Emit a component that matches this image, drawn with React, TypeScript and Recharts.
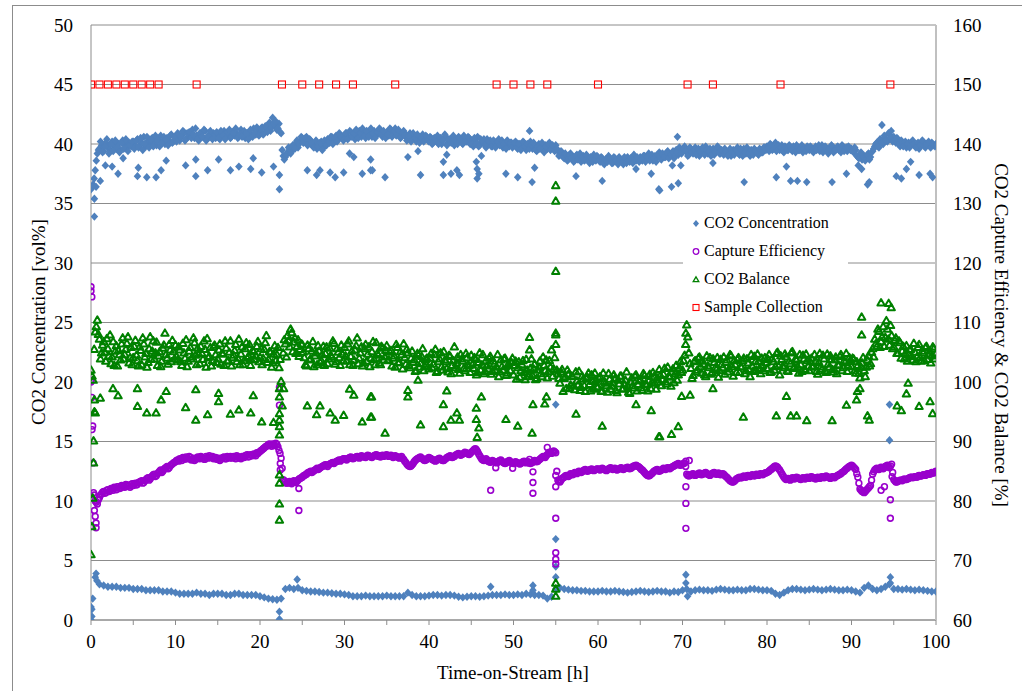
import React from "react";
import { ScatterChart, Scatter, XAxis, YAxis, CartesianGrid } from "recharts";

// sample spacing of the hand-read series [h]
const STEP = 0.25;
const STEP_LOW = 0.5;
// second reading of each dense band sits half a step later
const OFFSET = 0.125;

// CO2 concentration, main band near 40 vol% (every 0.25 h)
const co2High = [
  36.2, 36.6, 37.8, 39.2, 39.6, 39.9, 39.4, 40.1, 39.7, 39.5, 40.2, 39.8, 39.6, 40.0, 39.5, 40.3, 39.9, 39.7, 40.1, 39.8,
  40.2, 39.8, 40.4, 39.9, 40.1, 40.6, 39.8, 40.3, 40.0, 40.5, 40.1, 39.9, 40.4, 40.7, 40.2, 40.0, 40.5, 40.3, 40.8, 40.2,
  40.5, 40.9, 40.3, 40.7, 41.0, 40.4, 40.6, 40.8, 41.2, 40.5, 40.7, 40.3, 40.9, 40.6, 41.1, 40.4, 40.8, 40.6, 40.9, 40.5,
  40.8, 40.4, 40.9, 41.1, 40.6, 40.8, 40.5, 41.0, 40.7, 40.9, 40.6, 41.2, 40.8, 40.5, 40.9, 41.0, 40.7, 41.3, 40.8, 41.0,
  41.0, 41.4, 40.9, 41.3, 41.6, 41.1, 42.2, 41.5, 41.2, 41.7, 40.9, 39.0, 38.9, 39.3, 39.6, 39.4, 39.8, 40.1, 39.7, 40.2,
  40.5, 40.2, 40.6, 40.0, 40.3, 39.8, 40.1, 39.6, 39.9, 40.2, 39.7, 40.0, 40.4, 40.1, 40.6, 40.3, 40.7, 40.4, 40.8, 40.5,
  40.6, 40.9, 40.5, 41.0, 40.7, 40.4, 40.8, 41.1, 40.6, 40.9, 40.5, 41.0, 40.8, 40.6, 41.1, 40.7, 40.9, 41.2, 40.6, 40.8,
  41.0, 40.7, 41.2, 40.9, 41.3, 40.8, 41.0, 40.6, 41.1, 40.8, 40.5, 40.9, 40.4, 40.7, 40.2, 40.6, 40.3, 40.8, 40.4, 40.6,
  40.2, 40.5, 40.1, 40.4, 40.7, 40.2, 40.0, 40.4, 40.6, 40.1, 40.3, 40.5, 39.9, 40.2, 40.6, 40.3, 40.0, 40.4, 40.2, 40.5,
  40.3, 39.8, 40.2, 40.6, 39.9, 40.1, 40.4, 39.7, 40.0, 40.3, 39.8, 40.2, 39.9, 40.4, 40.1, 39.7, 40.0, 40.3, 39.8, 40.1,
  39.9, 40.2, 39.6, 40.0, 39.7, 40.1, 39.5, 39.8, 40.2, 39.6, 39.9, 39.4, 40.0, 39.7, 39.5, 39.9, 39.6, 40.1, 39.8, 39.7,
  39.9, 39.4, 39.1, 39.3, 38.8, 39.0, 38.7, 39.2, 38.9, 38.6, 39.1, 38.8, 38.5, 39.0, 38.7, 38.9, 38.4, 38.8, 39.1, 38.6,
  38.9, 38.5, 38.8, 38.3, 38.7, 39.0, 38.6, 38.4, 38.8, 38.5, 38.9, 38.6, 38.3, 38.7, 38.9, 38.5, 38.8, 39.1, 38.6, 38.7,
  38.9, 38.6, 39.0, 38.7, 39.2, 38.8, 38.6, 39.0, 38.9, 39.3, 38.7, 39.1, 38.9, 39.4, 39.0, 39.2, 38.8, 39.5, 39.1, 39.6,
  39.3, 39.8, 39.5, 39.1, 39.6, 39.2, 39.7, 39.4, 39.0, 39.5, 39.3, 39.8, 39.2, 39.6, 39.4, 39.1, 39.5, 39.7, 39.2, 39.4,
  39.6, 39.2, 39.4, 39.0, 39.5, 39.3, 39.7, 39.1, 39.4, 39.6, 39.2, 39.5, 39.0, 39.3, 39.6, 39.4, 39.1, 39.5, 39.3, 39.7,
  39.8, 39.4, 39.9, 39.6, 40.1, 39.7, 39.5, 39.9, 39.3, 39.7, 39.5, 39.8, 39.4, 39.6, 39.9, 39.5, 39.7, 39.3, 39.6, 39.8,
  39.5, 39.7, 39.3, 39.8, 39.6, 39.4, 39.9, 39.5, 39.7, 39.2, 39.6, 39.8, 39.4, 39.7, 39.5, 39.3, 39.8, 39.6, 39.4, 39.7,
  39.6, 39.3, 39.5, 38.9, 39.1, 38.7, 39.0, 38.8, 39.2, 38.9, 39.4, 39.8, 40.1, 39.7, 40.3, 40.0, 40.5, 40.2, 40.8, 40.4,
  40.6, 40.1, 40.4, 39.8, 40.2, 40.0, 39.7, 40.1, 39.9, 40.3, 39.8, 40.0, 39.6, 39.9, 40.2, 39.7, 40.0, 39.8, 40.1, 39.9,
  40.0,
];

// CO2 concentration, main band, readings in between (0.125 h + every 0.25 h)
const co2HighMid = [
  36.4, 37.1, 38.6, 39.5, 40.2, 39.3, 39.8, 40.4, 39.2, 40.0, 39.4, 40.3, 39.7, 39.3, 40.1, 39.6, 40.4, 39.4, 39.9, 40.2,
  39.6, 40.3, 39.7, 40.5, 39.5, 40.0, 40.6, 39.7, 40.4, 39.8, 40.7, 40.3, 39.8, 40.1, 40.6, 40.4, 39.9, 40.7, 40.1, 40.6,
  40.2, 40.8, 40.6, 41.1, 40.3, 40.9, 41.0, 40.5, 40.8, 41.3, 40.4, 40.9, 40.6, 41.2, 40.3, 40.7, 41.1, 40.4, 40.8, 41.0,
  40.5, 41.1, 40.7, 40.4, 41.0, 41.2, 40.6, 40.9, 41.3, 40.5, 40.8, 40.6, 41.1, 40.9, 40.4, 41.2, 40.6, 40.9, 41.4, 40.7,
  41.3, 40.8, 41.5, 41.0, 41.8, 41.4, 41.7, 41.9, 41.3, 41.0, 39.5, 38.7, 39.1, 39.7, 39.2, 39.9, 39.6, 40.3, 40.0, 40.6,
  40.1, 40.5, 39.9, 40.4, 40.1, 39.7, 40.3, 39.8, 40.1, 39.5, 40.3, 39.9, 40.2, 40.6, 40.0, 40.5, 40.2, 40.9, 40.6, 40.3,
  40.9, 40.4, 41.1, 40.6, 40.9, 41.2, 40.5, 40.9, 41.3, 40.7, 41.1, 40.6, 41.3, 40.9, 40.5, 41.0, 41.3, 40.8, 41.1, 40.5,
  40.8, 41.3, 40.6, 41.1, 40.7, 41.2, 40.5, 40.9, 40.7, 40.3, 40.6, 40.2, 40.9, 40.5, 40.8, 40.1, 40.5, 40.2, 40.7, 40.3,
  40.6, 40.0, 40.5, 40.2, 40.0, 40.5, 40.3, 40.8, 39.9, 40.4, 40.1, 40.7, 40.3, 40.0, 40.5, 40.1, 40.7, 40.2, 40.6, 40.0,
  40.0, 40.5, 40.0, 39.8, 40.4, 40.2, 39.9, 40.4, 40.2, 39.8, 40.3, 39.7, 40.2, 39.9, 40.3, 40.0, 39.6, 40.2, 40.1, 39.7,
  40.1, 39.7, 40.0, 39.5, 40.2, 39.8, 40.0, 39.6, 39.9, 40.1, 39.5, 39.8, 39.6, 40.1, 39.3, 39.8, 40.0, 39.5, 39.9, 39.4,
  39.6, 39.0, 39.4, 38.9, 39.2, 38.6, 39.1, 38.8, 38.5, 39.0, 38.7, 39.2, 38.9, 38.6, 39.1, 38.6, 38.9, 38.5, 38.7, 39.0,
  38.6, 38.9, 38.4, 38.7, 38.5, 38.8, 38.4, 38.9, 38.6, 38.3, 38.7, 38.5, 38.9, 38.4, 38.6, 38.8, 38.4, 38.7, 38.9, 38.5,
  38.7, 39.0, 38.5, 38.9, 38.6, 39.1, 38.8, 38.5, 39.1, 38.8, 39.2, 38.9, 39.3, 38.8, 39.1, 39.4, 39.0, 39.3, 39.7, 39.2,
  39.6, 39.4, 39.0, 39.7, 39.3, 39.5, 39.1, 39.6, 39.3, 39.7, 39.1, 39.5, 39.4, 39.0, 39.6, 39.3, 39.8, 39.2, 39.5, 39.1,
  39.4, 39.0, 39.6, 39.3, 39.1, 39.5, 39.2, 39.6, 39.0, 39.3, 39.7, 39.2, 39.5, 39.1, 39.4, 39.2, 39.6, 39.3, 39.7, 39.5,
  39.6, 40.0, 39.5, 39.8, 39.4, 39.9, 39.7, 39.4, 39.8, 39.5, 39.9, 39.6, 39.8, 39.3, 39.7, 39.5, 39.9, 39.6, 39.4, 39.7,
  39.8, 39.4, 39.6, 39.5, 39.9, 39.6, 39.3, 39.8, 39.4, 39.6, 39.9, 39.3, 39.5, 39.8, 39.6, 39.9, 39.4, 39.7, 39.8, 39.5,
  39.4, 39.7, 39.0, 38.8, 39.3, 38.9, 38.6, 39.1, 38.7, 39.3, 39.6, 40.0, 39.8, 40.4, 40.1, 40.7, 40.3, 40.9, 40.5, 40.2,
  40.3, 40.5, 40.0, 40.3, 39.8, 40.2, 40.0, 39.7, 40.2, 40.0, 39.7, 40.1, 39.9, 40.3, 39.8, 40.0, 40.2, 39.7, 40.0, 39.8,
];

// CO2 concentration, lower band near 2.5 vol% (every 0.5 h)
const co2Low = [
  1.1, 3.6, 3.0, 2.9, 2.8, 2.8, 2.8, 2.7, 2.7, 2.7, 2.6, 2.6, 2.6, 2.5, 2.5, 2.5, 2.5, 2.4, 2.4, 2.4,
  2.3, 2.2, 2.2, 2.2, 2.2, 2.3, 2.2, 2.2, 2.1, 2.2, 2.2, 2.2, 2.1, 2.1, 2.2, 2.2, 2.1, 2.1, 2.1, 2.1,
  2.0, 1.9, 1.8, 1.75, 1.7, 1.8, 2.6, 2.7, 2.6, 2.7, 2.5, 2.45, 2.4, 2.4, 2.35, 2.3, 2.3, 2.25, 2.2, 2.2,
  2.15, 2.1, 2.0, 2.0, 2.0, 2.05, 2.0, 2.0, 2.0, 2.0, 2.05, 2.0, 2.0, 2.0, 2.0, 2.3, 2.1, 2.0, 2.0, 2.0,
  2.05, 2.1, 2.1, 2.05, 2.1, 2.1, 2.05, 1.95, 1.9, 1.95, 2.0, 2.0, 1.95, 2.0, 2.05, 2.1, 2.1, 2.1, 2.15, 2.1,
  2.1, 2.15, 2.1, 2.2, 2.15, 2.1, 2.1, 2.05, 1.8, 1.95, 2.6, 2.7, 2.6, 2.55, 2.5, 2.5, 2.45, 2.45, 2.4, 2.4,
  2.4, 2.45, 2.4, 2.4, 2.45, 2.4, 2.35, 2.3, 2.35, 2.4, 2.45, 2.4, 2.35, 2.4, 2.45, 2.4, 2.4, 2.3, 2.4, 2.35,
  2.5, 2.6, 2.4, 2.5, 2.55, 2.5, 2.5, 2.45, 2.55, 2.6, 2.55, 2.5, 2.5, 2.55, 2.5, 2.5, 2.6, 2.6, 2.55, 2.5,
  2.5, 2.45, 2.2, 2.1, 2.3, 2.5, 2.6, 2.6, 2.55, 2.5, 2.55, 2.6, 2.55, 2.5, 2.55, 2.6, 2.55, 2.5, 2.5, 2.55,
  2.5, 2.4, 2.3, 2.7, 2.9, 2.6, 2.5, 2.6, 2.8, 3.0, 2.6, 2.6, 2.55, 2.6, 2.55, 2.5, 2.55, 2.5, 2.45, 2.4,
  2.4,
];

// scattered CO2 readings off the two bands [h, vol%]
const co2Scatter: [number, number][] = [
  [0.4, 33.9], [0.4, 35.4], [0.6, 36.4], [1.1, 36.9], [1.7, 38.2], [2.5, 38.1], [3.2, 37.5], [3.8, 38.8],
  [5.5, 37.3], [5.6, 38.0], [6.6, 37.2], [7.7, 37.2], [8.3, 37.8], [8.9, 38.6], [11.2, 38.2], [12.4, 38.7],
  [12.4, 37.3], [13.8, 37.8], [15.1, 38.7], [16.5, 37.8], [17.5, 38.1], [18.9, 37.9], [19.2, 38.8], [20.2, 37.6],
  [21.6, 38.1], [22.3, 36.2], [22.3, 37.4], [25.6, 37.8], [26.7, 37.4], [27.1, 37.8], [28.3, 37.6], [28.9, 37.2],
  [29.9, 37.6], [30.6, 39.2], [31.1, 38.9], [32.1, 37.5], [33.1, 37.8], [33.1, 38.7], [33.3, 37.8], [34.8, 37.2],
  [37.5, 38.9], [38.7, 39.4], [39.0, 37.4], [41.7, 38.5], [41.7, 37.4], [42.1, 39.1], [42.6, 37.5], [43.3, 37.8],
  [43.6, 37.4], [45.6, 38.5], [45.7, 37.9], [45.7, 37.1], [45.9, 37.5], [46.2, 39.0], [49.1, 37.5], [50.5, 37.2],
  [52.2, 36.8], [52.5, 38.0], [51.9, 41.1], [57.4, 37.3], [60.5, 36.9], [64.5, 37.9], [66.3, 37.5], [67.3, 36.1],
  [67.2, 36.2], [68.7, 36.4], [69.5, 36.7], [68.8, 38.2], [69.8, 38.2], [69.4, 40.6], [73.6, 38.4], [77.3, 36.8],
  [81.1, 37.2], [82.3, 38.1], [82.8, 36.9], [83.6, 36.9], [84.7, 36.8], [87.7, 36.8], [89.4, 37.5], [90.8, 38.2],
  [91.2, 37.9], [91.9, 36.6], [92.1, 36.8], [93.6, 41.6], [94.7, 41.1], [95.3, 37.3], [95.9, 37.1], [96.5, 37.9],
  [97.0, 38.5], [98.0, 37.4], [99.3, 37.5], [99.6, 37.2],
  [0, 0], [0.1, 0.3], [0.1, 0.9], [0.2, 1.8], [0.6, 3.9], [0.7, 3.3], [22.3, 0.7], [22.3, 0.06], [24.4, 3.4],
  [47.3, 2.8], [52.3, 2.9], [52.3, 2.5], [55.0, 18.1], [55.0, 6.8], [55.0, 4.5], [55.0, 3.6], [70.4, 3.8],
  [70.4, 3.1], [70.6, 2.0], [94.5, 18.1], [94.5, 15.1], [94.6, 3.6], [94.6, 3.1],
];

// capture efficiency [%] (every 0.25 h)
const efficiency = [
  100.0, 86.4, 80.0, 79.5, 80.6, 81.2, 81.6, 81.4, 81.9, 81.7, 82.0, 82.3, 81.9, 82.4, 82.2, 82.5, 82.3, 82.7, 82.5, 82.8,
  82.6, 83.0, 82.8, 83.2, 83.4, 83.1, 83.6, 83.9, 83.7, 84.2, 84.5, 84.3, 84.8, 85.2, 85.0, 85.5, 85.8, 85.6, 86.1, 86.4,
  86.6, 86.9, 87.1, 86.8, 87.2, 87.4, 87.1, 87.3, 87.0, 86.8, 87.1, 87.3, 87.5, 87.2, 87.0, 87.3, 87.6, 87.4, 87.1, 87.3,
  87.0, 86.8, 87.2, 87.4, 87.1, 87.3, 87.5, 87.2, 87.4, 87.6, 87.3, 87.1, 87.4, 87.6, 87.8, 87.5, 87.7, 87.9, 87.6, 88.0,
  88.3, 88.6, 88.9, 89.2, 89.5, 89.4, 89.6, 89.3, 89.5, 88.5, 87.2, 83.6, 83.2, 83.0, 83.3, 82.9, 83.4, 83.1, 83.5, 83.8,
  84.0, 84.3, 84.5, 84.8, 85.0, 84.9, 85.2, 85.5, 85.4, 85.7, 85.9, 86.1, 85.8, 86.2, 86.4, 86.3, 86.6, 86.8, 86.7, 87.0,
  87.1, 86.9, 87.2, 87.4, 87.1, 87.3, 87.5, 87.2, 87.6, 87.4, 87.3, 87.7, 87.5, 87.3, 87.6, 87.8, 87.5, 87.4, 87.7, 87.6,
  87.8, 87.5, 87.7, 87.3, 87.6, 87.4, 87.2, 87.5, 87.0, 86.5, 86.0, 85.8, 86.1, 86.6, 87.0, 87.2, 87.4, 87.1, 86.8, 87.0,
  87.3, 87.1, 86.9, 86.7, 87.0, 87.2, 86.9, 86.8, 87.1, 87.4, 87.6, 87.3, 87.5, 87.8, 88.0, 87.7, 87.9, 88.2, 88.0, 87.8,
  88.2, 88.5, 88.8, 88.3, 87.6, 87.0, 86.8, 87.1, 86.7, 86.5, 86.8, 86.6, 86.4, 86.7, 86.9, 86.5, 86.3, 86.6, 86.8, 86.5,
  86.3, 86.6, 86.4, 86.2, 86.5, 86.7, 86.4, 86.6, 86.3, 86.5, 86.8, 86.6, 86.9, 87.2, 87.5, 87.3, 87.8, 88.2, 88.0, 88.4,
  88.1, 83.5, 83.2, 83.8, 84.0, 84.3, 84.1, 84.6, 84.4, 84.8, 84.6, 85.0, 84.8, 85.1, 85.3, 85.0, 85.2, 85.4, 85.1, 85.3,
  85.4, 85.2, 85.5, 85.3, 85.1, 85.4, 85.6, 85.3, 85.5, 85.2, 85.4, 85.6, 85.3, 85.5, 85.7, 85.4, 85.6, 85.9, 86.0, 85.8,
  85.5, 85.2, 84.8, 84.4, 84.2, 84.5, 84.8, 85.1, 85.3, 85.0, 85.2, 85.5, 85.3, 85.6, 85.4, 85.7, 85.9, 86.1, 86.3, 86.0,
  86.2, 86.4, 84.5, 84.2, 84.4, 84.6, 84.3, 84.5, 84.7, 84.4, 84.6, 84.8, 84.5, 84.3, 84.6, 84.8, 84.5, 84.7, 84.4, 84.6,
  84.3, 84.0, 83.6, 83.3, 83.2, 83.5, 83.8, 84.0, 83.9, 84.2, 84.0, 84.3, 84.1, 84.4, 84.2, 84.5, 84.3, 84.6, 84.4, 84.7,
  84.8, 85.0, 85.3, 85.6, 85.9, 85.7, 85.2, 84.6, 84.0, 83.6, 83.8, 83.5, 83.9, 83.7, 84.0, 83.8, 83.6, 83.9, 83.7, 84.0,
  83.8, 84.1, 83.9, 83.7, 84.0, 83.8, 84.1, 83.9, 84.2, 84.0, 83.8, 84.1, 83.9, 84.2, 84.4, 84.6, 84.9, 85.2, 85.5, 85.8,
  86.0, 85.7, 85.3, 84.0, 82.0, 81.6, 81.4, 81.8, 82.2, 82.6, 84.5, 85.2, 85.5, 85.3, 85.7, 85.4, 85.8, 86.0, 85.6, 86.2,
  83.6, 83.2, 83.3, 83.5, 83.4, 83.7, 83.6, 83.8, 84.0, 83.9, 84.1, 84.0, 84.3, 84.2, 84.4, 84.3, 84.6, 84.5, 84.8, 84.7,
  85.0,
];

// capture efficiency, readings in between (0.125 h + every 0.25 h)
const efficiencyMid = [
  92.0, 81.0, 79.8, 80.2, 81.0, 81.5, 81.3, 81.8, 81.6, 82.1, 81.8, 82.2, 82.4, 82.1, 82.6, 82.4, 82.8, 82.6, 82.3, 82.9,
  82.9, 82.7, 83.1, 83.3, 83.0, 83.4, 83.8, 83.5, 84.0, 84.4, 84.1, 84.6, 85.0, 84.8, 85.3, 85.6, 85.4, 85.9, 86.2, 86.5,
  86.8, 86.7, 87.0, 87.3, 87.0, 87.2, 87.5, 86.9, 87.2, 87.0, 87.4, 87.1, 87.3, 87.0, 87.5, 87.2, 87.3, 87.5, 87.2, 87.0,
  87.2, 87.0, 87.3, 87.1, 87.5, 87.2, 87.3, 87.5, 87.1, 87.4, 87.2, 87.5, 87.3, 87.7, 87.4, 87.8, 87.6, 87.8, 88.1, 88.2,
  88.5, 88.8, 89.1, 89.3, 89.6, 89.2, 89.5, 89.7, 89.1, 88.0, 85.5, 83.4, 83.0, 83.2, 83.1, 83.2, 83.3, 83.3, 83.7, 83.9,
  84.2, 84.4, 84.7, 84.9, 84.8, 85.1, 85.3, 85.3, 85.6, 85.8, 86.0, 86.0, 86.1, 86.3, 86.5, 86.5, 86.7, 86.9, 86.9, 87.1,
  87.0, 87.1, 87.3, 87.2, 87.2, 87.4, 87.4, 87.4, 87.5, 87.5, 87.5, 87.6, 87.4, 87.5, 87.7, 87.7, 87.6, 87.6, 87.5, 87.7,
  87.6, 87.6, 87.5, 87.5, 87.5, 87.3, 87.3, 87.2, 86.7, 86.2, 85.9, 85.9, 86.3, 86.8, 87.1, 87.3, 87.2, 86.9, 86.9, 87.2,
  87.2, 87.0, 86.8, 86.8, 87.1, 87.0, 86.8, 87.0, 87.3, 87.5, 87.4, 87.4, 87.7, 87.9, 87.8, 87.8, 88.0, 88.1, 87.9, 88.0,
  88.3, 88.7, 88.6, 87.9, 87.3, 86.9, 86.9, 86.9, 86.6, 86.6, 86.7, 86.5, 86.5, 86.8, 86.7, 86.4, 86.4, 86.7, 86.6, 86.4,
  86.5, 86.5, 86.3, 86.3, 86.6, 86.5, 86.5, 86.4, 86.4, 86.6, 86.7, 86.7, 87.0, 87.3, 87.4, 87.6, 88.0, 88.1, 88.2, 88.3,
  85.0, 83.3, 83.5, 83.9, 84.2, 84.2, 84.3, 84.5, 84.6, 84.7, 84.9, 84.9, 84.9, 85.2, 85.1, 85.1, 85.3, 85.2, 85.2, 85.4,
  85.3, 85.4, 85.4, 85.2, 85.3, 85.5, 85.4, 85.4, 85.3, 85.3, 85.5, 85.4, 85.4, 85.6, 85.5, 85.5, 85.8, 85.9, 85.9, 85.7,
  85.3, 85.0, 84.6, 84.3, 84.3, 84.6, 85.0, 85.2, 85.1, 85.1, 85.3, 85.4, 85.5, 85.5, 85.6, 85.8, 86.0, 86.2, 86.1, 86.1,
  86.3, 85.8, 84.3, 84.3, 84.5, 84.4, 84.4, 84.6, 84.5, 84.5, 84.7, 84.6, 84.4, 84.5, 84.7, 84.6, 84.6, 84.5, 84.5, 84.5,
  84.1, 83.8, 83.4, 83.2, 83.3, 83.7, 83.9, 83.9, 84.1, 84.1, 84.2, 84.2, 84.3, 84.3, 84.3, 84.4, 84.5, 84.5, 84.6, 84.7,
  84.9, 85.2, 85.5, 85.8, 85.8, 85.4, 84.9, 84.3, 83.8, 83.7, 83.6, 83.7, 83.8, 83.9, 83.9, 83.7, 83.8, 83.8, 83.9, 83.9,
  84.0, 84.0, 83.8, 83.9, 83.9, 84.0, 84.0, 84.1, 84.1, 83.9, 84.0, 84.0, 84.1, 84.3, 84.5, 84.8, 85.0, 85.4, 85.7, 85.9,
  85.9, 85.5, 84.6, 83.0, 81.8, 81.5, 81.6, 82.0, 82.4, 83.5, 84.9, 85.4, 85.4, 85.5, 85.6, 85.6, 85.9, 85.8, 85.9, 84.8,
  83.4, 83.2, 83.4, 83.5, 83.6, 83.6, 83.7, 83.9, 84.0, 84.0, 84.1, 84.2, 84.2, 84.3, 84.4, 84.5, 84.6, 84.6, 84.7, 84.9,
];

const efficiencyScatter: [number, number][] = [
  [0, 116.0], [0, 115.3], [0.1, 114.3], [0, 100.3], [0.1, 97.4], [0.2, 92.6], [0.3, 81.4], [0.4, 78.4],
  [0.5, 77.4], [0.6, 76.3], [0.6, 75.5], [22.3, 99.1], [22.3, 96.1], [22.4, 86.3], [22.4, 85.2], [24.6, 82.1],
  [24.6, 78.4], [47.3, 81.8], [47.9, 85.6], [49.9, 85.5], [52.3, 84.9], [52.3, 83.1], [52.3, 81.3], [51.9, 87.0],
  [54.0, 89.0], [55.0, 84.3], [55.0, 82.4], [55.0, 77.1], [55.0, 71.3], [55.0, 70.2], [55.0, 69.4], [70.4, 86.7],
  [70.4, 82.4], [70.4, 79.6], [70.4, 75.4], [70.8, 86.8], [93.5, 81.8], [93.9, 82.4], [94.6, 80.2], [94.6, 77.1],
  [94.8, 84.1],
];

// CO2 balance [%] (every 0.25 h)
const balance = [
  102.0, 100.3, 108.4, 110.4, 107.2, 104.9, 106.8, 103.5, 105.6, 107.9, 104.2, 102.8, 106.1, 105.3, 103.7, 107.4, 104.6, 106.5, 103.2, 105.8,
  104.1, 107.0, 103.6, 105.9, 102.9, 106.4, 104.8, 103.3, 107.6, 105.2, 103.9, 106.7, 104.4, 102.6, 105.7, 108.2, 104.0, 106.3, 103.4, 105.1,
  106.2, 103.7, 105.4, 102.8, 104.9, 107.1, 103.5, 105.8, 104.2, 106.6, 102.9, 104.7, 106.0, 103.8, 105.5, 107.3, 104.3, 102.7, 105.9, 104.6,
  103.9, 106.4, 104.8, 102.8, 105.7, 103.6, 106.9, 104.1, 105.3, 103.4, 107.2, 104.7, 102.9, 105.6, 104.0, 106.3, 103.7, 105.1, 104.4, 106.8,
  104.2, 102.9, 105.5, 107.8, 103.8, 105.0, 103.2, 106.1, 104.6, 102.4, 100.1, 104.9, 106.4, 107.8, 105.9, 108.3, 106.7, 104.8, 107.1, 105.5,
  106.3, 104.1, 102.7, 105.6, 103.9, 106.8, 104.4, 102.9, 105.2, 103.6, 106.0, 104.8, 103.1, 105.7, 104.2, 106.5, 103.4, 105.0, 102.8, 104.7,
  105.8, 103.5, 106.9, 104.3, 102.8, 105.4, 107.4, 104.0, 105.9, 103.2, 106.3, 104.7, 102.6, 105.1, 103.8, 106.6, 104.5, 102.9, 105.7, 104.2,
  106.1, 103.7, 105.3, 104.0, 102.5, 105.8, 103.3, 104.6, 106.4, 103.0, 104.9, 102.4, 105.2, 103.7, 101.9, 104.5, 103.1, 105.6, 102.7, 104.0,
  102.2, 104.8, 103.0, 105.5, 101.8, 103.9, 102.6, 105.1, 103.4, 101.7, 104.3, 102.8, 105.9, 103.2, 102.1, 104.6, 103.5, 101.9, 104.1, 102.7,
  104.5, 102.3, 103.8, 101.6, 104.9, 102.9, 101.4, 103.6, 102.2, 104.3, 101.8, 103.1, 102.5, 100.9, 103.7, 102.0, 104.0, 101.5, 102.8, 103.3,
  101.2, 103.5, 102.4, 100.8, 102.9, 101.6, 103.8, 100.9, 102.3, 101.1, 103.0, 100.6, 102.5, 101.4, 104.2, 101.9, 100.7, 103.6, 105.4, 102.2,
  106.3, 101.4, 99.8, 102.1, 100.6, 98.9, 101.3, 99.5, 100.9, 98.7, 100.2, 101.8, 99.1, 100.5, 98.4, 100.8, 99.6, 101.2, 98.8, 100.3,
  99.2, 100.9, 98.5, 100.1, 99.4, 101.4, 98.8, 99.9, 100.6, 98.2, 99.7, 101.0, 98.9, 100.3, 99.3, 98.1, 100.7, 99.0, 101.2, 99.6,
  100.4, 98.6, 101.1, 99.5, 100.2, 98.9, 101.6, 99.8, 100.7, 102.1, 99.4, 101.3, 100.0, 102.5, 100.8, 101.7, 99.9, 102.8, 101.2, 103.4,
  102.0, 104.5, 109.6, 104.9, 102.3, 101.1, 103.6, 102.0, 104.2, 101.5, 103.0, 100.9, 102.7, 104.1, 101.6, 103.3, 102.1, 100.8, 103.8, 102.4,
  101.3, 103.7, 102.2, 104.4, 101.0, 102.9, 103.8, 101.6, 102.5, 104.0, 101.9, 103.2, 100.9, 102.7, 104.3, 102.0, 103.5, 101.4, 102.8, 104.1,
  102.3, 104.6, 101.7, 103.4, 102.6, 105.0, 101.2, 103.8, 102.4, 104.2, 101.8, 103.1, 105.1, 102.5, 103.7, 101.5, 102.9, 104.5, 102.1, 103.6,
  101.9, 104.0, 102.7, 103.5, 101.3, 104.8, 102.2, 103.9, 101.6, 103.0, 104.4, 102.1, 103.7, 101.4, 102.8, 104.6, 102.4, 103.3, 101.8, 104.1,
  102.6, 103.9, 101.5, 102.8, 100.7, 103.2, 101.9, 102.5, 104.4, 103.1, 105.6, 107.2, 106.0, 108.5, 106.8, 109.3, 107.5, 108.9, 106.2, 107.8,
  105.9, 107.4, 104.8, 106.6, 105.2, 103.9, 106.1, 104.6, 105.5, 103.7, 105.0, 104.2, 106.3, 103.5, 104.9, 105.8, 103.8, 105.2, 104.4, 105.6,
  104.8,
];

// CO2 balance, readings in between (0.125 h + every 0.25 h)
const balanceMid = [
  101.0, 105.5, 109.3, 108.0, 103.9, 106.2, 105.0, 107.3, 104.4, 103.1, 106.8, 105.2, 102.7, 104.6, 106.4, 103.9, 105.5, 107.6, 104.1, 102.9,
  106.0, 104.5, 102.7, 105.3, 107.4, 104.2, 102.5, 105.6, 103.8, 106.9, 104.9, 102.8, 105.1, 103.5, 106.2, 104.6, 103.0, 105.4, 107.0, 103.9,
  104.3, 105.9, 103.4, 106.5, 104.0, 102.6, 105.2, 103.9, 107.4, 104.5, 105.7, 103.1, 104.8, 106.9, 102.5, 104.1, 105.8, 103.6, 106.2, 103.3,
  105.4, 103.0, 104.7, 106.9, 103.5, 105.0, 102.7, 104.5, 106.3, 104.0, 102.9, 105.9, 103.6, 106.6, 104.3, 102.8, 105.3, 103.8, 106.0, 103.4,
  105.6, 104.0, 106.6, 103.3, 105.1, 102.5, 104.7, 103.6, 105.8, 103.8, 96.0, 107.1, 104.2, 106.9, 108.9, 105.1, 107.4, 106.0, 104.3, 106.4,
  105.0, 102.9, 106.2, 103.7, 105.2, 102.6, 104.9, 106.1, 103.3, 104.6, 102.8, 105.9, 103.9, 104.5, 106.9, 103.0, 105.6, 104.1, 106.2, 103.6,
  104.4, 106.4, 102.9, 105.2, 103.7, 106.1, 103.1, 104.9, 102.7, 105.6, 103.5, 105.9, 104.0, 106.8, 102.9, 104.8, 103.2, 106.0, 103.7, 105.3,
  103.6, 105.0, 102.7, 104.4, 106.3, 103.2, 105.1, 102.2, 104.1, 105.5, 102.8, 104.0, 103.3, 101.8, 104.8, 102.5, 104.3, 101.9, 103.8, 102.6,
  104.0, 102.4, 104.6, 101.6, 103.4, 104.9, 102.0, 103.7, 102.3, 104.5, 101.4, 103.6, 102.4, 104.2, 101.5, 103.9, 102.3, 104.8, 102.9, 101.6,
  102.9, 104.1, 101.2, 103.3, 102.0, 104.6, 101.8, 102.7, 104.0, 101.3, 103.5, 102.0, 104.6, 101.7, 102.6, 103.9, 101.1, 103.0, 101.9, 104.0,
  102.8, 100.5, 103.4, 101.9, 103.6, 100.4, 102.0, 101.3, 103.9, 102.2, 100.4, 102.0, 103.5, 100.9, 102.8, 103.7, 101.7, 102.5, 101.0, 104.1,
  102.0, 100.6, 101.7, 98.4, 100.9, 102.0, 99.0, 101.0, 99.3, 101.7, 99.5, 98.6, 101.0, 99.4, 100.6, 101.5, 98.5, 100.1, 101.5, 99.1,
  100.6, 98.4, 101.5, 99.8, 98.3, 100.5, 99.3, 101.2, 98.6, 100.3, 101.0, 98.8, 99.6, 101.7, 98.3, 100.0, 99.4, 101.0, 98.5, 100.2,
  99.0, 101.4, 99.7, 98.5, 101.3, 99.9, 100.9, 98.8, 100.0, 101.1, 100.4, 102.3, 99.7, 101.0, 99.3, 102.2, 101.4, 100.3, 102.4, 101.6,
  103.6, 106.3, 107.6, 103.1, 100.6, 103.4, 101.7, 104.0, 102.6, 103.5, 101.2, 104.4, 102.4, 101.3, 103.9, 102.4, 104.1, 101.9, 102.9, 104.2,
  103.3, 101.7, 104.6, 102.6, 103.6, 101.6, 104.1, 102.6, 103.6, 101.4, 103.9, 102.1, 104.6, 101.8, 103.4, 104.7, 102.3, 104.0, 101.9, 103.2,
  103.8, 101.6, 103.9, 102.0, 104.8, 102.7, 104.4, 102.7, 104.7, 101.9, 103.5, 104.9, 102.3, 103.9, 102.6, 104.6, 101.8, 103.9, 104.7, 102.6,
  103.4, 102.5, 104.6, 101.8, 103.3, 102.6, 104.5, 101.9, 104.7, 102.5, 103.8, 101.7, 104.2, 102.9, 104.3, 101.9, 103.6, 104.8, 102.7, 103.7,
  104.0, 101.9, 103.4, 101.5, 102.5, 104.1, 100.9, 103.7, 102.7, 105.0, 104.2, 106.4, 108.9, 105.8, 107.6, 106.0, 110.3, 107.2, 109.5, 105.6,
  107.0, 104.8, 106.9, 104.0, 106.0, 104.8, 103.5, 105.4, 104.3, 106.5, 103.4, 105.8, 104.1, 105.2, 103.6, 106.0, 104.6, 103.2, 105.9, 103.9,
];

const balanceScatter: [number, number][] = [
  [0, 71.0], [0.1, 75.7], [0.2, 80.5], [0.3, 86.4], [0.3, 90.1], [0.4, 95.0], [0.4, 97.0], [0.5, 94.8], [1.1, 97.3],
  [2.6, 98.9], [3.2, 97.7], [5.5, 98.9], [5.5, 95.9], [6.6, 94.8], [7.7, 94.8], [8.3, 97.0], [8.9, 98.4], [11.2, 95.7],
  [12.4, 98.7], [12.4, 93.6], [13.8, 94.5], [15.1, 98.1], [15.1, 96.7], [16.5, 94.6], [17.5, 95.3], [18.9, 94.8],
  [19.2, 97.7], [20.2, 93.3], [21.6, 93.2], [22.3, 98.9], [22.3, 97.5], [22.3, 94.7], [22.3, 93.6], [22.3, 92.5],
  [22.3, 91.1], [22.3, 84.4], [22.3, 83.0], [22.3, 79.5], [22.3, 76.8], [22.8, 98.9], [25.6, 96.0], [26.7, 94.5],
  [27.1, 96.0], [28.3, 94.8], [28.9, 93.6], [29.9, 94.4], [30.6, 98.8], [31.1, 97.8], [32.1, 93.3], [33.1, 94.1],
  [33.1, 97.5], [33.2, 97.5], [33.2, 94.1], [34.8, 91.4], [37.5, 98.6], [37.5, 97.5], [38.7, 100.3], [39.0, 92.8],
  [41.7, 96.2], [41.7, 92.5], [42.1, 98.5], [42.6, 93.6], [43.3, 94.8], [43.6, 93.6], [45.6, 95.6], [45.6, 93.7],
  [45.7, 90.7], [45.9, 92.3], [46.2, 97.5], [49.1, 93.7], [50.5, 92.6], [52.2, 91.4], [52.3, 96.2], [51.9, 107.5],
  [51.9, 105.4], [53.7, 96.3], [53.9, 97.5], [55.0, 133.0], [55.0, 130.4], [55.0, 118.6], [55.0, 108.2], [55.0, 107.9],
  [55.0, 66.2], [55.0, 65.2], [55.0, 64.0], [57.4, 94.6], [60.5, 92.6], [64.5, 96.2], [66.3, 95.2], [67.3, 90.8],
  [67.2, 90.8], [68.7, 91.2], [69.5, 92.5], [69.9, 97.6], [70.4, 108.2], [70.9, 97.8], [73.6, 98.9], [77.2, 94.1],
  [81.1, 94.3], [82.3, 97.6], [82.8, 94.3], [83.5, 94.3], [84.7, 93.5], [87.7, 93.5], [89.4, 96.1], [90.6, 97.0],
  [90.7, 98.4], [91.0, 98.9], [91.2, 110.9], [91.2, 107.9], [91.9, 94.3], [92.1, 93.6], [93.5, 113.3], [94.4, 113.2],
  [94.7, 112.5], [95.4, 96.0], [95.9, 95.2], [96.5, 98.0], [96.7, 99.8], [98.0, 95.9], [99.3, 96.7], [99.6, 94.7],
];

// sample collection times [h], drawn at 45 vol%
const sampleTimes = [0, 1, 2, 3, 4, 5, 6, 7, 8, 12.5, 22.6, 25, 27, 29, 31, 36, 48, 50, 52, 54, 60, 70.6, 73.6, 81.6, 94.6];
const SAMPLE_LEVEL = 45;

const xTicks = [0, 5, 10, 15, 20, 25, 30, 35, 40, 45, 50, 55, 60, 65, 70, 75, 80, 85, 90, 95, 100];
const leftTicks = [0, 5, 10, 15, 20, 25, 30, 35, 40, 45, 50];
const rightTicks = [60, 70, 80, 90, 100, 110, 120, 130, 140, 150, 160];

const FONT = '"Liberation Serif", "Times New Roman", serif';
const BLUE = "#4f81bd";
const PURPLE = "#9900cc";
const GREEN = "#008000";
const RED = "#ff0000";
const GRID = "#8c8c8c";

const toPoints = (vals: number[], step: number, start = 0) => vals.map((v, i) => ({ t: start + i * step, v }));
const fromPairs = (pairs: [number, number][]) => pairs.map(([t, v]) => ({ t, v }));

const co2Data = [
  ...toPoints(co2High, STEP),
  ...toPoints(co2HighMid, STEP, OFFSET),
  ...toPoints(co2Low, STEP_LOW),
  ...fromPairs(co2Scatter),
];
const effData = [...toPoints(efficiency, STEP), ...toPoints(efficiencyMid, STEP, OFFSET), ...fromPairs(efficiencyScatter)];
const balData = [...toPoints(balance, STEP), ...toPoints(balanceMid, STEP, OFFSET), ...fromPairs(balanceScatter)];
const sampleData = sampleTimes.map((t) => ({ t, v: SAMPLE_LEVEL }));

const Diamond = (p: any) => (
  <path d={`M${p.cx},${p.cy - 4.2}L${p.cx + 3.8},${p.cy}L${p.cx},${p.cy + 4.2}L${p.cx - 3.8},${p.cy}Z`} fill={BLUE} />
);
const Ring = (p: any) => <circle cx={p.cx} cy={p.cy} r={2.9} fill="none" stroke={PURPLE} strokeWidth={1.6} />;
const Tri = (p: any) => (
  <path
    d={`M${p.cx},${p.cy - 3.8}L${p.cx + 3.7},${p.cy + 2.6}L${p.cx - 3.7},${p.cy + 2.6}Z`}
    fill="none"
    stroke={GREEN}
    strokeWidth={2}
    strokeLinejoin="round"
  />
);
const Square = (p: any) => (
  <rect x={p.cx - 3.5} y={p.cy - 3.5} width={7} height={7} fill="none" stroke={RED} strokeWidth={1.1} />
);

const XTick = (p: any) =>
  p.payload.value % 10 === 0 ? (
    <text x={p.x} y={641} textAnchor="middle" dy="0.35em" fontSize={19} fontFamily={FONT} fill="#000">
      {p.payload.value}
    </text>
  ) : (
    <g />
  );
const LeftTick = (p: any) => (
  <text x={73} y={p.y} textAnchor="end" dy="0.35em" fontSize={19} fontFamily={FONT} fill="#000">
    {p.payload.value}
  </text>
);
const RightTick = (p: any) => (
  <text x={953} y={p.y} textAnchor="start" dy="0.35em" fontSize={19} fontFamily={FONT} fill="#000">
    {p.payload.value}
  </text>
);

const legendItems = [
  { label: "CO2 Concentration", mark: <path d="M5,2L8,5.5L5,9L2,5.5Z" fill={BLUE} /> },
  { label: "Capture Efficiency", mark: <circle cx={5} cy={5.5} r={2.8} fill="none" stroke={PURPLE} strokeWidth={1.3} /> },
  { label: "CO2 Balance", mark: <path d="M5,2.8L7.8,7.6L2.2,7.6Z" fill="none" stroke={GREEN} strokeWidth={1.3} /> },
  { label: "Sample Collection", mark: <rect x={2} y={2.5} width={6} height={6} fill="none" stroke={RED} strokeWidth={1.1} /> },
];

export default function App() {
  return (
    <div style={{ position: "absolute", left: 0, top: 0, width: 1022, height: 691, background: "#fff", overflow: "hidden" }}>
      <div style={{ position: "absolute", left: 12, top: 5, width: 1030, height: 720, border: "1px solid #8c8c8c" }} />
      <div style={{ position: "absolute", left: 0, top: 0 }}>
        <ScatterChart width={1022} height={691} margin={{ top: 25, right: 0, bottom: 0, left: 0 }}>
          <CartesianGrid yAxisId="left" vertical={false} stroke={GRID} strokeWidth={1} />
          <XAxis
            type="number"
            dataKey="t"
            domain={[0, 100]}
            ticks={xTicks}
            interval={0}
            height={71}
            axisLine={{ stroke: GRID }}
            tickLine={{ stroke: GRID }}
            tickSize={5}
            tick={<XTick />}
            allowDataOverflow
          />
          <YAxis
            yAxisId="left"
            type="number"
            dataKey="v"
            domain={[0, 50]}
            ticks={leftTicks}
            interval={0}
            width={91}
            axisLine={{ stroke: GRID }}
            tickLine={false}
            tick={<LeftTick />}
            allowDataOverflow
          />
          <YAxis
            yAxisId="right"
            orientation="right"
            type="number"
            dataKey="v"
            domain={[60, 160]}
            ticks={rightTicks}
            interval={0}
            width={86}
            axisLine={{ stroke: "#c0c0c0", strokeWidth: 2 }}
            tickLine={false}
            tick={<RightTick />}
            allowDataOverflow
          />
          <Scatter yAxisId="left" data={co2Data} shape={Diamond} isAnimationActive={false} />
          <Scatter yAxisId="right" data={effData} shape={Ring} isAnimationActive={false} />
          <Scatter yAxisId="right" data={balData} shape={Tri} isAnimationActive={false} />
          <Scatter yAxisId="left" data={sampleData} shape={Square} isAnimationActive={false} />
        </ScatterChart>
      </div>
      <svg width={1022} height={691} style={{ position: "absolute", left: 0, top: 0, pointerEvents: "none" }}>
        <text x={38} y={322} transform="rotate(-90 38 322)" textAnchor="middle" dy="0.35em" fontSize={19} fontFamily={FONT}>
          CO2 Concentration [vol%]
        </text>
        <text x={1002} y={335} transform="rotate(90 1002 335)" textAnchor="middle" dy="0.35em" fontSize={19} fontFamily={FONT}>
          CO2 Capture Efficiency &amp; CO2 Balance [%]
        </text>
        <text x={513} y={672} textAnchor="middle" dy="0.35em" fontSize={19} fontFamily={FONT}>
          Time-on-Stream [h]
        </text>
      </svg>
      <div
        style={{
          position: "absolute",
          left: 683,
          top: 206,
          width: 165,
          height: 113,
          background: "#fff",
          fontFamily: FONT,
          fontSize: 16,
        }}
      >
        {legendItems.map((it, i) => (
          <div key={it.label} style={{ position: "absolute", left: 8, top: 6 + i * 28, height: 22, display: "flex", alignItems: "center" }}>
            <svg width={10} height={11} style={{ marginRight: 3 }}>
              {it.mark}
            </svg>
            <span>{it.label}</span>
          </div>
        ))}
      </div>
    </div>
  );
}
